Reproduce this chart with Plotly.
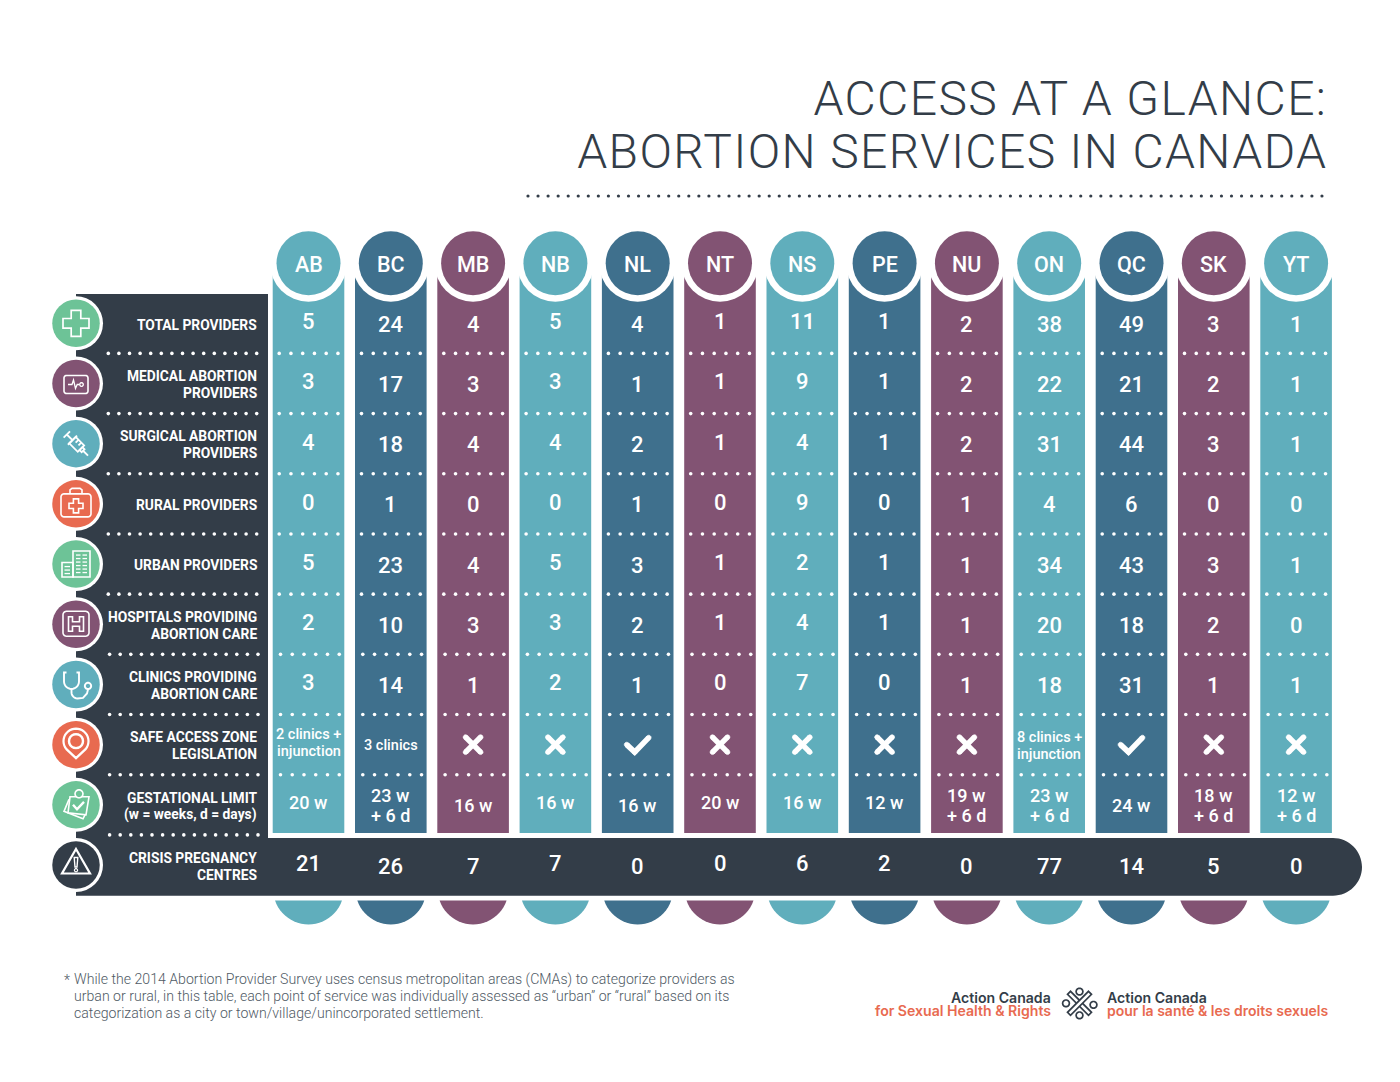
import math
import plotly.graph_objects as go

provinces = ["AB", "BC", "MB", "NB", "NL", "NT", "NS", "PE", "NU", "ON", "QC", "SK", "YT"]

total_providers = [5, 24, 4, 5, 4, 1, 11, 1, 2, 38, 49, 3, 1]
medical_providers = [3, 17, 3, 3, 1, 1, 9, 1, 2, 22, 21, 2, 1]
surgical_providers = [4, 18, 4, 4, 2, 1, 4, 1, 2, 31, 44, 3, 1]
rural_providers = [0, 1, 0, 0, 1, 0, 9, 0, 1, 4, 6, 0, 0]
urban_providers = [5, 23, 4, 5, 3, 1, 2, 1, 1, 34, 43, 3, 1]
hospitals = [2, 10, 3, 3, 2, 1, 4, 1, 1, 20, 18, 2, 0]
clinics = [3, 14, 1, 2, 1, 0, 7, 0, 1, 18, 31, 1, 1]
safe_access = ["2 clinics +<br>injunction", "3 clinics", "no", "no", "yes", "no", "no", "no", "no",
               "8 clinics +<br>injunction", "yes", "no", "no"]
gestational = ["20 w", "23 w<br>+ 6 d", "16 w", "16 w", "16 w", "20 w", "16 w", "12 w", "19 w<br>+ 6 d",
               "23 w<br>+ 6 d", "24 w", "18 w<br>+ 6 d", "12 w<br>+ 6 d"]
crisis_centres = [21, 26, 7, 7, 0, 0, 6, 2, 0, 77, 14, 5, 0]

row_labels = ["TOTAL PROVIDERS", "MEDICAL ABORTION<br>PROVIDERS", "SURGICAL ABORTION<br>PROVIDERS",
              "RURAL PROVIDERS", "URBAN PROVIDERS", "HOSPITALS PROVIDING<br>ABORTION CARE",
              "CLINICS PROVIDING<br>ABORTION CARE", "SAFE ACCESS ZONE<br>LEGISLATION",
              "GESTATIONAL LIMIT<br>(w = weeks, d = days)", "CRISIS PREGNANCY<br>CENTRES"]
table_rows = [total_providers, medical_providers, surgical_providers, rural_providers, urban_providers,
              hospitals, clinics, safe_access, gestational, crisis_centres]

title_lines = ["ACCESS AT A GLANCE:", "ABORTION SERVICES IN CANADA"]
footnote = ["While the 2014 Abortion Provider Survey uses census metropolitan areas (CMAs) to categorize providers as",
            "urban or rural, in this table, each point of service was individually assessed as “urban” or “rural” based on its",
            "categorization as a city or town/village/unincorporated settlement."]

TEAL = "#60aebc"
BLUE = "#3f708d"
PLUM = "#825373"
DARK = "#333d48"
GREEN = "#6dc397"
CORAL = "#e86a50"
WHITE = "#ffffff"
col_colors = [[TEAL, BLUE, PLUM][i % 3] for i in range(13)]
icon_colors = [GREEN, PLUM, TEAL, CORAL, GREEN, PLUM, TEAL, CORAL, GREEN, DARK]
raised = {"AB", "NB", "NT", "NS", "PE"}

# pixel position of a column / row, the axes below are set up to agree with these
COL0, COL_STEP = 308.5, 82.3
ROW0, ROW_STEP = 323.3, 60.19
W, H = 1400, 1082


def col_px(i):
    return COL0 + COL_STEP * i


def row_px(i):
    return ROW0 + ROW_STEP * i


fig = go.Figure()
shapes = []
notes = []


def txt(x, y, s, size, color=WHITE, anchor="center", weight=400, family="Roboto", xref="x2", yref="y2",
        yshift=0, line_h=None):
    lines = s.split("<br>")
    line_h = line_h or size * 1.17
    # annotations keep a 2px pad on their box, take it back at the anchored side
    xshift = {"left": -2, "right": 2, "center": 0}[anchor]
    for k, line in enumerate(lines):
        off = ((len(lines) - 1) / 2 - k) * line_h
        notes.append(dict(x=x, y=y, xref=xref, yref=yref, text=line, showarrow=False, xanchor=anchor,
                          yanchor="middle", xshift=xshift, yshift=yshift + off, align=anchor,
                          font=dict(family=family, size=size, color=color, weight=weight)))


def path(points, cx=0, cy=0, closed=False, width=1.6, color=WHITE, fill=None, layer="above"):
    d = "M" + " L".join(f"{cx + x:.2f},{cy + y:.2f}" for x, y in points) + (" Z" if closed else "")
    shapes.append(dict(type="path", path=d, xref="x2", yref="y2", layer=layer,
                       line=dict(color=color, width=width), fillcolor=fill))


def arc(x, y, r, a0=0, a1=360, n=28):
    return [(x + r * math.cos(math.radians(a0 + (a1 - a0) * k / n)),
             y + r * math.sin(math.radians(a0 + (a1 - a0) * k / n))) for k in range(n + 1)]


def round_rect(x0, y0, x1, y1, r):
    return (arc(x1 - r, y0 + r, r, -90, 0, 5) + arc(x1 - r, y1 - r, r, 0, 90, 5)
            + arc(x0 + r, y1 - r, r, 90, 180, 5) + arc(x0 + r, y0 + r, r, 180, 270, 5))


def rot(points, deg):
    c, s = math.cos(math.radians(deg)), math.sin(math.radians(deg))
    return [(c * x - s * y, s * x + c * y) for x, y in points]


def thick(points, cx, cy, width):
    # stroke with rounded ends for the tick and cross marks
    path(points, cx, cy, width=width)
    for x, y in points:
        path(arc(x, y, width / 2 - 0.3, n=12), cx, cy, closed=True, width=0.6, fill=WHITE)


def icon_plus(cx, cy):
    a, b = 13, 4.8
    path([(-b, -a), (b, -a), (b, -b), (a, -b), (a, b), (b, b), (b, a), (-b, a), (-b, b), (-a, b), (-a, -b), (-b, -b)],
         cx, cy, closed=True, width=1.7)


def icon_monitor(cx, cy):
    path(round_rect(-12, -8, 12, 10, 2.5), cx, cy, closed=True)
    path([(-8, 1), (-4, 1), (-2.5, -3.5), (-0.5, 5), (1.2, 1), (3, 1)], cx, cy, width=1.3)
    path(arc(5.5, 1, 1.8, n=12), cx, cy, closed=True, width=1.3)


def icon_syringe(cx, cy):
    for pts, closed in [([(-5, -4.5), (7, -4.5), (7, 4.5), (-5, 4.5)], True),
                        ([(7, -2), (10, -2), (10, 2), (7, 2)], True),
                        ([(10, 0), (17, 0)], False),
                        ([(-5, -6.5), (-5, 6.5)], False),
                        ([(-5, 0), (-13, 0)], False),
                        ([(-13, -4.5), (-13, 4.5)], False),
                        ([(-1, -4.5), (-1, -0.5)], False),
                        ([(3, -4.5), (3, -0.5)], False)]:
        path(rot(pts, 45), cx, cy, closed=closed, width=1.8)


def icon_medkit(cx, cy):
    path(round_rect(-15, -10, 15, 13, 3), cx, cy, closed=True)
    path([(-6, -10), (-6, -14), (-4, -15.5), (4, -15.5), (6, -14), (6, -10)], cx, cy)
    a, b = 7, 2.6
    path([(-b, -a), (b, -a), (b, -b), (a, -b), (a, b), (b, b), (b, a), (-b, a), (-b, b), (-a, b), (-a, -b), (-b, -b)],
         cx, cy + 2, closed=True)


def icon_buildings(cx, cy):
    path([(-3, -13), (14, -13), (14, 13), (-3, 13)], cx, cy, closed=True)
    path([(-14, -1.5), (-3, -1.5), (-3, 13), (-14, 13)], cx, cy, closed=True)
    for y in [-9, -5.5, -2, 1.5, 5, 8.5]:
        path([(0, y), (4.5, y)], cx, cy, width=1.3)
        path([(6.5, y), (11, y)], cx, cy, width=1.3)
    for y in [2.5, 6, 9.5]:
        path([(-11.5, y), (-6, y)], cx, cy, width=1.3)


def icon_hospital(cx, cy):
    path(round_rect(-13, -13, 13, 12, 3.5), cx, cy, closed=True)
    path([(-7.5, -7.5), (-3.5, -7.5), (-3.5, -2.5), (3.5, -2.5), (3.5, -7.5), (7.5, -7.5), (7.5, 7), (3.5, 7),
          (3.5, 2), (-3.5, 2), (-3.5, 7), (-7.5, 7)], cx, cy, closed=True)


def icon_stethoscope(cx, cy):
    path([(-9.5, -12), (-12, -12), (-12, -3)] + arc(-4.5, -3, 7.5, 180, 0, 14) + [(3, -12), (0.5, -12)],
         cx, cy, width=1.9)
    path([(-4.5, 4.5), (-4.5, 8)] + arc(1.5, 8, 6, 180, 90, 6)[1:] + [(7, 13.5), (11, 9), (12, 5)],
         cx, cy, width=1.9)
    path(arc(12, 1.5, 3.2, n=14), cx, cy, closed=True, width=1.9)


def icon_pin(cx, cy):
    path(arc(0, -3.5, 12.5, 140, 400, 26) + [(0, 13.5)], cx, cy, closed=True, width=2.2)
    path(arc(0, -3.5, 7, n=20), cx, cy, closed=True, width=2.4)


def icon_clipboard(cx, cy):
    path([(-7, -5.5), (-12, 6.5), (7, 14), (10, 8)], cx, cy, width=1.6)
    path([(-6, -8), (13, -8), (10, 10), (-8, 8)], cx, cy, closed=True, width=1.6, fill=GREEN)
    path(arc(3, -11, 4, n=14), cx, cy, closed=True, width=1.6, fill=GREEN)
    path([(-3, 0), (1, 4.5), (8, -3)], cx, cy, width=2.4)


def icon_warning(cx, cy):
    path([(0, -16), (14, 8.5), (-14, 8.5)], cx, cy, closed=True, width=2.2)
    path([(-1.8, -7.5), (1.8, -7.5), (1, 2), (-1, 2)], cx, cy, closed=True, width=1.4)
    path(arc(0, 5.2, 1.6, n=10), cx, cy, closed=True, width=1.2)


icon_funcs = [icon_plus, icon_monitor, icon_syringe, icon_medkit, icon_buildings, icon_hospital,
              icon_stethoscope, icon_pin, icon_clipboard, icon_warning]

# dark panel + the rounded band of the last row, under everything else
shapes.append(dict(type="path", xref="x2", yref="y2", layer="below", fillcolor=DARK, line=dict(width=0),
                   path="M76,294 L268,294 L268,838 L1333,838 "
                        "C1349,838 1362,851 1362,867 C1362,883 1349,895.7 1333,895.7 L76,895.7 Z"))

# discs cut off under the band
for i, c in enumerate(col_colors):
    path(arc(col_px(i), 889, 35.4, 19, 161, 24), closed=True, width=0, color=c, fill=c, layer="below")

# columns
col_top, col_bottom = (275 - ROW0) / ROW_STEP, (833 - ROW0) / ROW_STEP
fig.add_trace(go.Bar(x=provinces, y=[col_bottom - col_top] * 13, base=[col_top] * 13, width=71.6 / COL_STEP,
                     marker=dict(color=col_colors, line=dict(width=0)), hoverinfo="skip"))
head_y = [(263.3 - ROW0) / ROW_STEP] * 13
fig.add_trace(go.Scatter(x=provinces, y=head_y, mode="markers", hoverinfo="skip",
                         marker=dict(size=77, color=WHITE, line=dict(width=0))))
fig.add_trace(go.Scatter(x=provinces, y=head_y, mode="markers", hoverinfo="skip",
                         marker=dict(size=64, color=col_colors, line=dict(width=0))))

# row icons
icon_x = [76] * 10
icon_y = [row_px(i) for i in range(10)]
fig.add_trace(go.Scatter(x=icon_x, y=icon_y, xaxis="x2", yaxis="y2", mode="markers", hoverinfo="skip",
                         marker=dict(size=54, color=WHITE, line=dict(width=0))))
fig.add_trace(go.Scatter(x=icon_x, y=icon_y, xaxis="x2", yaxis="y2", mode="markers", hoverinfo="skip",
                         marker=dict(size=47.5, color=icon_colors, line=dict(width=0))))
for i, f in enumerate(icon_funcs):
    f(76, row_px(i))

# dotted separators
dot_x, dot_y = [], []
for r in range(9):
    y = row_px(r) + ROW_STEP / 2
    shift = 1.3 if r >= 5 else 0
    for k in range(15):
        dot_x.append(108.3 + shift + k * 10.6)
        dot_y.append(y)
    if r < 8:
        for i in range(13):
            for k in range(6):
                dot_x.append(col_px(i) - 29.3 + shift + k * 11.75)
                dot_y.append(y)
fig.add_trace(go.Scatter(x=dot_x, y=dot_y, xaxis="x2", yaxis="y2", mode="markers", hoverinfo="skip",
                         marker=dict(size=3.6, color=WHITE, line=dict(width=0))))

title_dots = [528 + k * 10.05 for k in range(80)]
fig.add_trace(go.Scatter(x=title_dots, y=[196] * 80, xaxis="x2", yaxis="y2", mode="markers", hoverinfo="skip",
                         marker=dict(size=3.2, color=DARK, line=dict(width=0))))

# table text
for i, p in enumerate(provinces):
    txt(p, head_y[i], p, 21.5, weight=500, xref="x", yref="y", yshift=-1)
    up = 2.5 if p in raised else 0
    for r, row in enumerate(table_rows):
        v = row[i]
        if v == "no":
            cx, cy = col_px(i), row_px(r)
            thick([(-7.5, -7.5), (7.5, 7.5)], cx, cy, 5.5)
            thick([(-7.5, 7.5), (7.5, -7.5)], cx, cy, 5.5)
        elif v == "yes":
            thick([(-11, 0), (-3, 7.5), (11, -7)], col_px(i), row_px(r), 5.5)
        elif r == 7:
            txt(p, r, str(v), 14.5, weight=500, xref="x", yref="y", yshift=up - 1, line_h=17)
        elif r == 8:
            if "<br>" in v:
                txt(p, r, v, 18, weight=500, xref="x", yref="y", yshift=-1, line_h=20)
            else:
                txt(p, r, v, 18, weight=500, xref="x", yref="y", yshift=up - 0.5)
        else:
            txt(p, r, str(v), 22, weight=500, xref="x", yref="y", yshift=up - 1)

for r, label in enumerate(row_labels):
    txt(257, row_px(r), label, 13.8, anchor="right", weight=700, line_h=17, yshift=-1.3)

# title, footnote, logo
txt(1327, 98, title_lines[0], 48, color=DARK, anchor="right", weight=300)
txt(1327, 151, title_lines[1], 48, color=DARK, anchor="right", weight=300)

txt(64, 979.5, "*", 14, color="#4f5a65", anchor="left", weight=300)
for k, line in enumerate(footnote):
    txt(74, 979.5 + 16.8 * k, line, 14.12, color="#4f5a65", anchor="left", weight=300)

txt(1051, 997.5, "Action Canada", 14.1, color=DARK, anchor="right", weight=600, family="Inter")
txt(1051, 1010.5, "for Sexual Health & Rights", 14.1, color=CORAL, anchor="right", weight=600, family="Inter")
txt(1107, 997.5, "Action Canada", 14.1, color=DARK, anchor="left", weight=600, family="Inter")
txt(1107, 1010.5, "pour la santé & les droits sexuels", 14, color=CORAL, anchor="left", weight=600, family="Inter")

lx, ly = 1079.5, 1003.3
for x, y in [(0, -11.7), (-13.5, 0), (14, 1.5), (0, 12)]:
    path(arc(x, y, 3.4, n=14), lx, ly, closed=True, width=1.7, color=DARK)
for pts in [[(-12, -9), (-9, -12), (12, 9), (9, 12)], [(9, -12), (12, -9), (-9, 12), (-12, 9)]]:
    path(pts, lx, ly, closed=True, width=1.7, color=DARK, fill=WHITE)

fig.update_layout(
    width=W,
    height=H,
    autosize=False,
    margin=dict(l=0, r=0, t=0, b=0),
    paper_bgcolor=WHITE,
    plot_bgcolor="rgba(0,0,0,0)",
    showlegend=False,
    barmode="overlay",
    xaxis=dict(type="category", categoryorder="array", categoryarray=provinces, visible=False, fixedrange=True,
               domain=[0, 1], range=[-COL0 / COL_STEP, (W - COL0) / COL_STEP]),
    yaxis=dict(visible=False, fixedrange=True, domain=[0, 1], range=[(H - ROW0) / ROW_STEP, -ROW0 / ROW_STEP]),
    xaxis2=dict(overlaying="x", visible=False, fixedrange=True, range=[0, W]),
    yaxis2=dict(overlaying="y", visible=False, fixedrange=True, range=[H, 0]),
    shapes=shapes,
    annotations=notes,
)

spacing = """
document.body.style.margin = '0';
document.querySelectorAll('.annotation-text').forEach(function (t) {
  if (/^(ACCESS AT|ABORTION SERVICES)/.test(t.textContent)) t.style.letterSpacing = '1.4px';
});
"""
fig.write_html("out.html", post_script=spacing, config={"displayModeBar": False})
